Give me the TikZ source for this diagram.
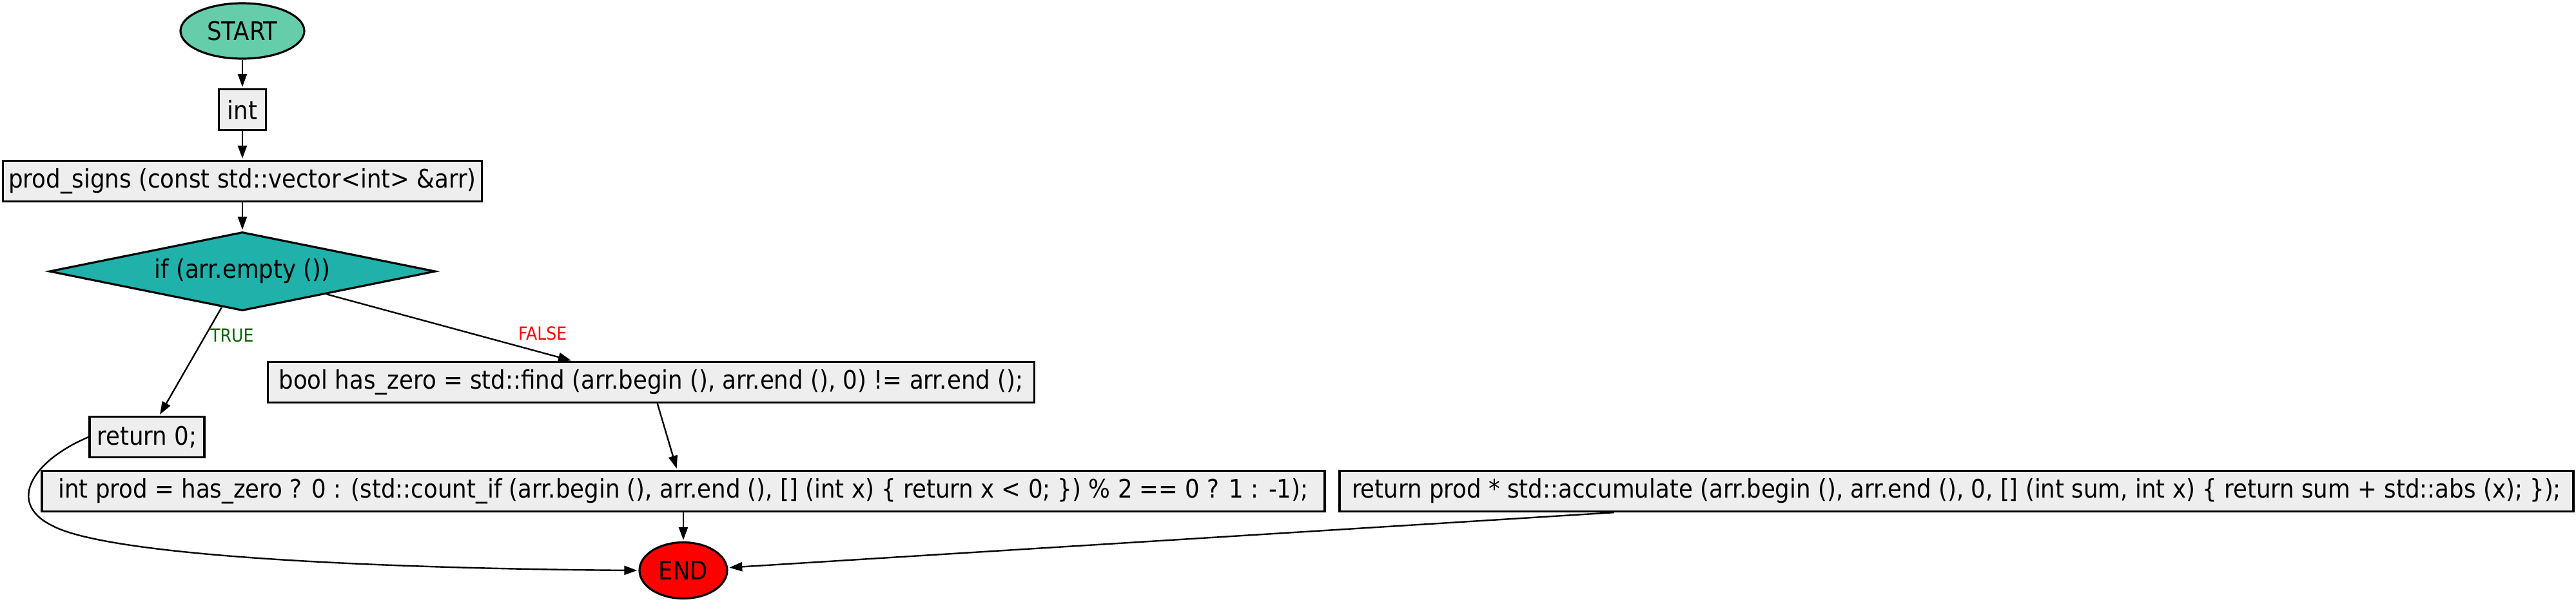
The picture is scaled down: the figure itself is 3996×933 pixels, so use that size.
\documentclass[tikz,border=0pt]{standalone}
\usepackage{fontspec}
\setmainfont{DejaVu Sans Condensed}
\usetikzlibrary{shapes.geometric, graphs, arrows.meta}

\definecolor{startgreen}{RGB}{102,205,170}
\definecolor{ifteal}{RGB}{32,178,170}
\definecolor{boxgray}{RGB}{238,238,238}
\definecolor{truegreen}{RGB}{0,100,0}

\begin{document}
\begin{tikzpicture}[
                x=0.5pt,
                y=-0.5pt,
                ->,
                > ={Stealth[length=10pt, width=7pt, inset=0pt]},
                line width=1.2pt,
                shorten >=1pt,
                every node/.style={font=\fontsize{19.8}{23}\selectfont, line width=1.6pt},
                stmt/.style={rectangle, draw, fill=boxgray, minimum height=31.5pt, inner xsep=1pt},
                term/.style={ellipse, draw, minimum width=96pt, minimum height=43pt, inner sep=0pt},
                cond/.style={diamond, draw, aspect=4.9, fill=ifteal, minimum width=299.5pt, minimum height=61pt, inner sep=1pt},
                branch/.style={font=\fontsize{14}{16}\selectfont, inner sep=3pt},
            ]
            \useasboundingbox (0,0) rectangle (3996,933);

            \node[term, fill=startgreen] (S) at (376,48) {START};
            \node[stmt, minimum width=36.5pt] (T) at (376,170) {int};
            \node[stmt, minimum width=371.5pt] (P) at (376,281) {prod\_signs (const std::vector<int> \&arr)};
            \node[cond] (C) at (376,421) {if (arr.empty ())};
            \node[stmt, minimum width=89pt] (Z) at (228,678) {return 0;};
            \node[stmt, minimum width=594.5pt] (B) at (1010,593) {bool has\_zero = std::find (arr.begin (), arr.end (), 0) != arr.end ();};
            \node[stmt, minimum width=995pt] (M) at (1060,762) {int prod = has\_zero ? 0 : (std::count\_if (arr.begin (), arr.end (), [] (int x) \{ return x < 0; \}) \% 2 == 0 ? 1 : -1);};
            \node[stmt, minimum width=957pt] (A) at (3035,762) {return prod * std::accumulate (arr.begin (), arr.end (), 0, [] (int sum, int x) \{ return sum + std::abs (x); \});};
            \node[term, fill=red, minimum width=68pt, minimum height=43.5pt] (E) at (1060,885) {END};

            \graph[use existing nodes]{
                S -> T -> P -> C;
                C ->[
                    edge node={node[branch, text=truegreen, pos=0.26, anchor=west] {TRUE}},
                ]
                Z;
                C ->[
                    edge node={node[branch, text=red, pos=0.76, anchor=south west] {FALSE}},
                ]
                B;
                B -> M -> E;
                A -> E;
            } ;

            % return 0 goes round the left side down to END
            \draw (Z.west) .. controls (50,715) and (10,780) .. (80,815)
                .. controls (180,870) and (700,883) .. (E.west);
        \end{tikzpicture}
\end{document}
